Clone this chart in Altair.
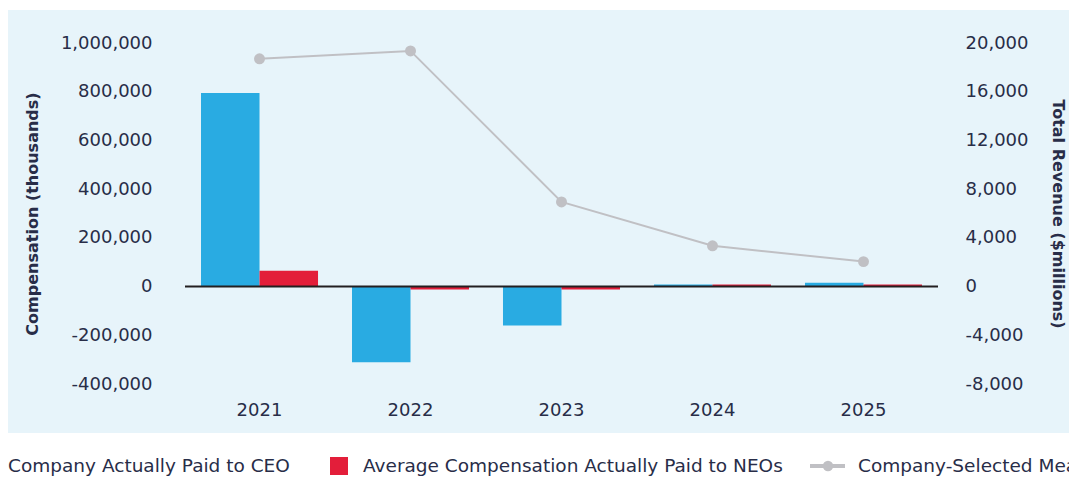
import altair as alt
import pandas as pd

years = ["2021", "2022", "2023", "2024", "2025"]
ceo_cap = [795000, -311000, -160000, 8000, 16000]
neo_cap = [65000, -12000, -12000, 8000, 8000]
revenue = [18700, 19350, 6950, 3350, 2050]
series = ["Company Actually Paid to CEO", "Average Compensation Actually Paid to NEOs"]
line_label = "Company-Selected Measure"
colors = ["#29abe2", "#e31e3a"]
line_color = "#c0c0c4"
text_color = "#282d48"
font = "DejaVu Sans"

bars_df = pd.DataFrame({
    "year": years * 2,
    "series": [series[0]] * 5 + [series[1]] * 5,
    "value": ceo_cap + neo_cap,
})
line_df = pd.DataFrame({"year": years, "revenue": revenue})
one = pd.DataFrame({"a": [0]})

W, H = 753, 341
label_expr = "replace(format(datum.value, ',.0f'), '\u2212', '-')"

x_enc = alt.X("year:N", title=None, sort=years,
              scale=alt.Scale(paddingInner=0.225, paddingOuter=0.106),
              axis=alt.Axis(labelAngle=0, ticks=False, domain=False, labelPadding=17,
                            labelFontSize=18, labelColor=text_color, labelFont=font, zindex=2))

background = alt.Chart(one).mark_rect(color="#e7f4fa").encode(
    x=alt.value(-177), x2=alt.value(884), y=alt.value(-33), y2=alt.value(390))

bars = alt.Chart(bars_df).mark_bar().encode(
    x=x_enc,
    xOffset=alt.XOffset("series:N", sort=series, scale=alt.Scale(domain=series)),
    y=alt.Y("value:Q", title="Compensation (thousands)",
            scale=alt.Scale(domain=[-400000, 1000000], nice=False),
            axis=alt.Axis(values=list(range(-400000, 1000001, 200000)), labelExpr=label_expr,
                          ticks=False, domain=False, grid=False, labelPadding=33,
                          labelFontSize=18, labelColor=text_color, labelFont=font,
                          titleFontSize=16, titleFontWeight="bold", titleColor=text_color,
                          titleFont=font, titlePadding=20, zindex=2)),
    color=alt.Color("series:N", scale=alt.Scale(domain=series, range=colors), legend=None),
)
zero = alt.Chart(one).mark_rule(color="#231f20", strokeWidth=2).encode(
    y=alt.datum(0), x=alt.value(0), x2=alt.value(W))
left = alt.layer(bars, zero)

line = alt.Chart(line_df).mark_line(color=line_color, strokeWidth=2).encode(
    x=alt.X("year:N", sort=years),
    y=alt.Y("revenue:Q", title="Total Revenue ($millions)",
            scale=alt.Scale(domain=[-8000, 20000], nice=False),
            axis=alt.Axis(orient="right", values=list(range(-8000, 20001, 4000)), labelExpr=label_expr,
                          ticks=False, domain=False, grid=False, labelPadding=27,
                          labelFontSize=18, labelColor=text_color, labelFont=font,
                          titleFontSize=16, titleFontWeight="bold", titleColor=text_color,
                          titleFont=font, titleAngle=90, titlePadding=22, zindex=2)),
)
pts = alt.Chart(line_df).mark_circle(color=line_color, size=120, opacity=1).encode(
    x=alt.X("year:N", sort=years), y=alt.Y("revenue:Q"))
right = alt.layer(line, pts)

leg_y = 423
leg_font = dict(font=font, fontSize=18.5, color=text_color, align="left", baseline="middle")
legend = alt.layer(
    alt.Chart(one).mark_text(text=series[0], **leg_font).encode(x=alt.value(-177), y=alt.value(leg_y)),
    alt.Chart(one).mark_square(color=colors[1], size=324, opacity=1).encode(x=alt.value(154), y=alt.value(leg_y)),
    alt.Chart(one).mark_text(text=series[1], **leg_font).encode(x=alt.value(178), y=alt.value(leg_y)),
    alt.Chart(one).mark_rule(color=line_color, strokeWidth=4).encode(
        x=alt.value(625), x2=alt.value(660), y=alt.value(leg_y)),
    alt.Chart(one).mark_circle(color=line_color, size=110, opacity=1).encode(x=alt.value(643), y=alt.value(leg_y)),
    alt.Chart(one).mark_text(text=line_label, **leg_font).encode(x=alt.value(673), y=alt.value(leg_y)),
)

chart = alt.layer(background, left, right, legend).resolve_scale(y="independent").properties(
    width=W, height=H,
    autosize=alt.AutoSizeParams(type="none"),
    padding={"left": 185, "top": 43, "right": 131, "bottom": 93},
    background="white",
).configure_view(stroke=None)

chart.save("out.html", embed_options={"renderer": "svg", "actions": False})
